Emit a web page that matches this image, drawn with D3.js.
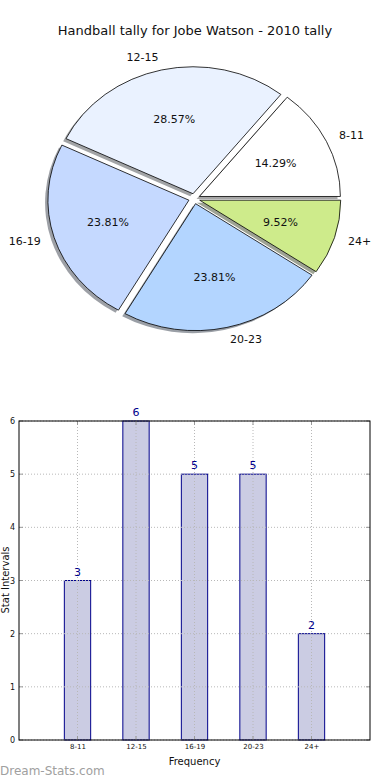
<!DOCTYPE html>
<html>
<head>
<meta charset="utf-8">
<script src="https://cdn.jsdelivr.net/npm/d3@7"></script>
<style>
  body { margin: 0; background: #fff; }
  svg { display: block; font-family: "DejaVu Sans", sans-serif; }
</style>
</head>
<body>
<svg id="chart" width="390" height="780"></svg>
<script>
// data
const title = 'Handball tally for Jobe Watson - 2010 tally';
const categories = ['8-11', '12-15', '16-19', '20-23', '24+'];
const counts = [3, 6, 5, 5, 2];
const sliceColors = ['#ffffff', '#eaf2ff', '#c5d9ff', '#b3d5ff', '#ceeb8b'];
const yTicks = [0, 1, 2, 3, 4, 5, 6];

const svg = d3.select('#chart');
const total = d3.sum(counts);

svg.append('text')
  .attr('x', 195).attr('y', 30)
  .attr('text-anchor', 'middle')
  .attr('dominant-baseline', 'central')
  .style('font-size', '13px')
  .style('fill', '#111')
  .text(title);

// ---- pie (elliptical, matplotlib style: ccw from east, exploded, shadow)
const cx = 194.3, cy = 198.7, rx = 141, ry = 127;
const explode = 0.04;

const pie = d3.pie().sort(null)
  .startAngle(Math.PI / 2)
  .endAngle(Math.PI / 2 - 2 * Math.PI);
const arcs = pie(counts);
const arc = d3.arc().innerRadius(0).outerRadius(1);

const pieG = svg.append('g');
arcs.forEach((d, i) => {
  const mid = (d.startAngle + d.endAngle) / 2;
  const ex = explode * Math.sin(mid), ey = -explode * Math.cos(mid);
  const col = d3.rgb(sliceColors[i]);

  // shadow
  pieG.append('path')
    .attr('transform', `translate(${cx + rx * (ex - 0.02)},${cy + ry * (ey + 0.02)}) scale(${rx},${ry})`)
    .attr('d', arc(d))
    .attr('fill', d3.rgb(col.r * 0.3, col.g * 0.3, col.b * 0.3))
    .attr('fill-opacity', 0.5)
    .attr('stroke', 'none');

  pieG.append('path')
    .attr('transform', `translate(${cx + rx * ex},${cy + ry * ey}) scale(${rx},${ry})`)
    .attr('d', arc(d))
    .attr('fill', sliceColors[i])
    .attr('stroke', '#000')
    .attr('stroke-width', 0.8)
    .attr('vector-effect', 'non-scaling-stroke');
});

// labels
arcs.forEach((d, i) => {
  const mid = (d.startAngle + d.endAngle) / 2;
  const sx = Math.sin(mid), sy = -Math.cos(mid);
  const ox = cx + rx * explode * sx, oy = cy + ry * explode * sy;

  svg.append('text')
    .attr('x', ox + rx * 1.1 * sx)
    .attr('y', oy + ry * 1.1 * sy)
    .attr('text-anchor', sx > 0 ? 'start' : 'end')
    .attr('dominant-baseline', 'central')
    .style('font-size', '11px')
    .style('fill', '#111')
    .text(categories[i]);

  svg.append('text')
    .attr('x', ox + rx * 0.6 * sx)
    .attr('y', oy + ry * 0.6 * sy)
    .attr('text-anchor', 'middle')
    .attr('dominant-baseline', 'central')
    .style('font-size', '11px')
    .style('fill', '#111')
    .text(d3.format('.2f')(counts[i] / total * 100) + '%');
});

// ---- bar chart
const pL = 19, pR = 370, pT = 421, pB = 740;
const x = d3.scaleLinear().domain([-1, 5]).range([pL, pR]);
const y = d3.scaleLinear().domain([0, 6]).range([pB, pT]);
const barW = 0.45;

const bars = svg.append('g');
bars.selectAll('rect')
  .data(counts)
  .join('rect')
    .attr('x', (d, i) => x(i - barW / 2))
    .attr('y', d => y(d))
    .attr('width', x(barW) - x(0))
    .attr('height', d => y(0) - y(d))
    .attr('fill', '#cbcce3')
    .attr('stroke', '#00008b')
    .attr('stroke-width', 1);

// grid (over bars, like matplotlib)
const grid = svg.append('g')
  .attr('stroke', '#b8b8b8')
  .attr('stroke-width', 1)
  .attr('stroke-dasharray', '1,2');
yTicks.forEach(t => {
  grid.append('line')
    .attr('x1', pL).attr('x2', pR)
    .attr('y1', y(t)).attr('y2', y(t));
});
categories.forEach((c, i) => {
  grid.append('line')
    .attr('x1', x(i)).attr('x2', x(i))
    .attr('y1', pT).attr('y2', pB);
});

// inward ticks
const ticks = svg.append('g').attr('stroke', '#999').attr('stroke-width', 1);
yTicks.forEach(t => {
  ticks.append('line').attr('x1', pL).attr('x2', pL + 4).attr('y1', y(t)).attr('y2', y(t));
  ticks.append('line').attr('x1', pR).attr('x2', pR - 4).attr('y1', y(t)).attr('y2', y(t));
});
categories.forEach((c, i) => {
  ticks.append('line').attr('x1', x(i)).attr('x2', x(i)).attr('y1', pB).attr('y2', pB - 4);
  ticks.append('line').attr('x1', x(i)).attr('x2', x(i)).attr('y1', pT).attr('y2', pT + 4);
});

// frame
svg.append('rect')
  .attr('x', pL).attr('y', pT)
  .attr('width', pR - pL).attr('height', pB - pT)
  .attr('fill', 'none')
  .attr('stroke', '#000')
  .attr('stroke-width', 1);

// axes text
const yAxis = svg.append('g')
  .attr('transform', `translate(${pL},0)`)
  .call(d3.axisLeft(y).tickValues(yTicks).tickFormat(d3.format('d')).tickSize(0).tickPadding(4));
yAxis.select('.domain').remove();
yAxis.selectAll('text').style('font-size', '8px').style('fill', '#111')
  .style('font-family', '"DejaVu Sans", sans-serif');

const xAxis = svg.append('g')
  .attr('transform', `translate(0,${pB})`)
  .call(d3.axisBottom(x).tickValues(d3.range(categories.length))
    .tickFormat(i => categories[i]).tickSize(0).tickPadding(4));
xAxis.select('.domain').remove();
xAxis.selectAll('text').style('font-size', '7px').style('fill', '#111')
  .style('font-family', '"DejaVu Sans", sans-serif');

// value labels
svg.append('g').selectAll('text')
  .data(counts)
  .join('text')
    .attr('x', (d, i) => x(i))
    .attr('y', d => y(d) - 5)
    .attr('text-anchor', 'middle')
    .style('font-size', '11px')
    .style('fill', '#00008b')
    .text(d => d);

svg.append('text')
  .attr('x', x(2)).attr('y', 761)
  .attr('text-anchor', 'middle')
  .attr('dominant-baseline', 'central')
  .style('font-size', '10px')
  .style('fill', '#111')
  .text('Frequency');

svg.append('text')
  .attr('transform', 'translate(5,580) rotate(-90)')
  .attr('text-anchor', 'middle')
  .attr('dominant-baseline', 'central')
  .style('font-size', '10px')
  .style('fill', '#111')
  .text('Stat Intervals');

svg.append('text')
  .attr('x', 0).attr('y', 771)
  .attr('dominant-baseline', 'central')
  .style('font-size', '12px')
  .style('fill', '#a0a0a0')
  .text('Dream-Stats.com');
</script>
</body>
</html>
